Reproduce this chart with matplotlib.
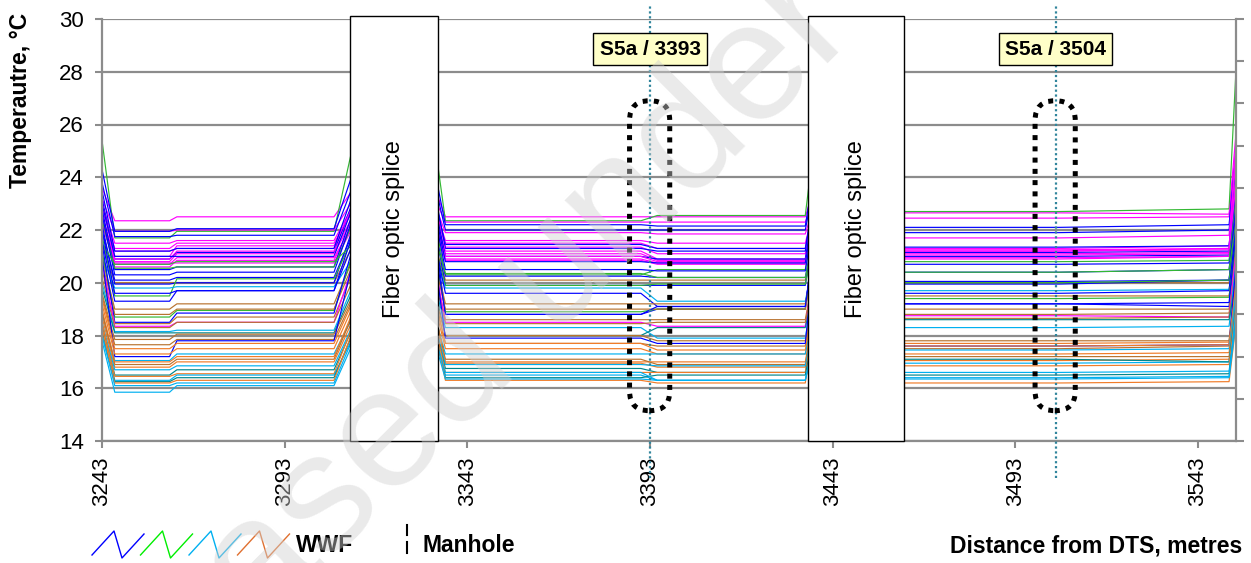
import matplotlib
matplotlib.use("Agg")
import matplotlib.pyplot as plt
from matplotlib.patches import Rectangle, FancyBboxPatch

plt.rcParams["font.family"] = ["Liberation Sans", "DejaVu Sans"]

# knot positions (m) for the three visible stretches of cable
x_first = [3243, 3246.5, 3261.5, 3263.5, 3306.5, 3312]
x_second = [3334, 3337, 3390.5, 3395, 3435.5, 3438]
x_third = [3462, 3505, 3551.5, 3553.3]

# one row per trace: colour, then
# [start spike, level A1, level A2, level B1, level B2, level C1, level C2, end spike]
traces = [
    ("M", [23.6, 22.35, 22.50, 22.50, 22.50, 22.65, 22.60, 25.5]),
    ("G", [25.4, 21.70, 21.95, 22.35, 22.55, 22.70, 22.80, 27.8]),
    ("M", [23.2, 21.95, 22.00, 22.30, 22.30, 22.45, 22.50, 25.0]),
    ("B", [24.3, 21.95, 22.05, 22.20, 22.15, 22.10, 22.20, 24.8]),
    ("B", [23.8, 21.75, 21.80, 22.00, 22.00, 21.90, 22.00, 24.5]),
    ("M", [23.0, 21.50, 21.60, 21.90, 21.85, 21.70, 21.80, 24.8]),
    ("M", [22.9, 21.20, 21.30, 21.60, 21.50, 21.25, 21.30, 24.4]),
    ("M", [22.8, 21.30, 21.50, 21.50, 21.30, 21.30, 21.40, 24.2]),
    ("B", [23.2, 20.90, 21.15, 21.45, 21.30, 21.35, 21.40, 24.0]),
    ("M", [23.0, 21.00, 21.40, 21.35, 21.10, 21.20, 21.30, 24.6]),
    ("B", [23.5, 21.20, 21.30, 21.30, 21.20, 21.15, 21.20, 24.0]),
    ("M", [22.6, 20.90, 21.20, 21.20, 20.90, 21.10, 21.15, 25.2]),
    ("M", [22.5, 20.80, 21.10, 21.10, 20.85, 21.20, 21.25, 23.8]),
    ("B", [23.0, 21.00, 21.00, 21.00, 20.90, 21.00, 21.05, 23.5]),
    ("M", [22.3, 20.70, 20.95, 21.00, 20.80, 21.05, 21.10, 24.0]),
    ("M", [22.4, 20.60, 20.85, 20.90, 20.75, 20.95, 21.00, 23.6]),
    ("M", [22.2, 20.75, 20.75, 20.85, 20.70, 20.90, 21.00, 23.4]),
    ("B", [22.8, 20.50, 20.60, 20.80, 20.75, 20.70, 20.75, 23.2]),
    ("G", [22.4, 20.55, 20.60, 20.30, 20.50, 20.80, 20.85, 23.0]),
    ("B", [22.6, 20.30, 20.40, 20.50, 20.45, 20.40, 20.50, 22.8]),
    ("B", [22.0, 20.10, 20.20, 20.25, 20.20, 20.05, 20.10, 22.6]),
    ("R", [21.5, 20.00, 20.00, 20.10, 20.10, 20.00, 20.00, 22.0]),
    ("B", [22.2, 19.95, 20.00, 19.90, 19.90, 19.95, 20.10, 22.4]),
    ("G", [21.8, 19.50, 20.15, 20.35, 20.20, 20.40, 20.50, 22.2]),
    ("G", [21.5, 20.70, 20.80, 19.90, 19.95, 20.00, 20.10, 22.0]),
    ("C", [21.0, 19.80, 19.85, 19.80, 19.30, 19.70, 19.75, 21.6]),
    ("B", [21.6, 19.30, 19.70, 19.60, 19.10, 19.60, 19.70, 22.0]),
    ("B", [22.0, 19.60, 19.70, 18.80, 19.00, 19.20, 19.10, 21.5]),
    ("R", [21.0, 19.00, 19.20, 19.20, 19.20, 19.50, 19.50, 21.2]),
    ("G", [21.2, 18.70, 18.95, 18.90, 19.00, 19.40, 19.45, 21.5]),
    ("R", [20.8, 18.80, 19.00, 19.00, 19.00, 19.00, 19.00, 21.0]),
    ("B", [21.5, 18.50, 18.85, 18.80, 19.10, 19.20, 19.25, 21.8]),
    ("R", [20.5, 18.45, 18.70, 18.60, 18.60, 18.80, 18.85, 20.8]),
    ("M", [20.8, 18.35, 18.50, 18.50, 18.35, 18.75, 18.70, 21.0]),
    ("R", [20.2, 18.30, 18.50, 18.45, 18.50, 18.65, 18.70, 20.5]),
    ("C", [20.0, 18.15, 18.20, 18.30, 17.90, 18.30, 18.35, 20.6]),
    ("T", [19.8, 18.10, 18.10, 18.00, 18.30, 18.60, 18.60, 20.0]),
    ("R", [19.6, 17.85, 18.05, 18.00, 17.80, 17.80, 17.80, 20.2]),
    ("R", [19.5, 17.65, 17.85, 17.70, 17.60, 17.50, 17.60, 20.0]),
    ("B", [21.0, 17.20, 17.80, 17.90, 17.70, 17.60, 17.65, 20.5]),
    ("O", [19.4, 17.50, 17.70, 17.70, 17.45, 17.70, 17.75, 19.8]),
    ("O", [19.2, 17.30, 17.50, 17.50, 17.30, 17.60, 17.65, 19.6]),
    ("C", [18.8, 17.05, 17.30, 17.30, 17.30, 17.45, 17.50, 19.5]),
    ("O", [19.0, 17.00, 17.20, 17.00, 17.00, 17.30, 17.35, 19.3]),
    ("R", [18.9, 16.90, 17.10, 17.10, 16.90, 17.20, 17.20, 19.2]),
    ("O", [18.7, 16.80, 17.00, 16.95, 16.80, 17.05, 17.10, 19.0]),
    ("C", [18.5, 16.70, 16.85, 16.90, 16.85, 16.95, 17.00, 19.4]),
    ("T", [18.4, 16.50, 16.70, 16.75, 16.60, 17.10, 17.00, 19.0]),
    ("O", [18.5, 16.45, 16.55, 16.60, 16.60, 16.85, 16.90, 18.9]),
    ("C", [18.0, 16.30, 16.50, 16.50, 16.30, 16.60, 16.65, 18.6]),
    ("T", [18.2, 16.25, 16.40, 16.40, 16.50, 16.50, 16.55, 18.5]),
    ("O", [18.3, 16.20, 16.30, 16.30, 16.20, 16.20, 16.25, 18.3]),
    ("C", [18.0, 16.10, 16.20, 16.60, 16.30, 16.35, 16.40, 18.4]),
    ("C", [17.8, 15.85, 16.10, 16.35, 16.30, 16.40, 16.45, 18.8]),
]

trace_colors = {"M": "#FF00FF", "B": "#0000FF", "G": "#33B833", "C": "#00B0F0",
                "O": "#F07C28", "R": "#B8732F", "T": "#00868B"}

splices = [(3310.9, 3335.0), (3436.3, 3462.5)]
markers = [3393, 3504]
marker_labels = ["S5a / 3393", "S5a / 3504"]
xticks = [3243, 3293, 3343, 3393, 3443, 3493, 3543]
yticks = [14, 16, 18, 20, 22, 24, 26, 28, 30]

legend_colors = ["#0000FF", "#00EE00", "#00B0F0", "#E07030"]

GREY = "#8C8C8C"


def main():
    fig = plt.figure(figsize=(12.51, 5.63), dpi=100)
    ax = fig.add_axes([102 / 1251, 1 - 441 / 563, 1134 / 1251, 422 / 563])

    for key, v in traces:
        s, a1, a2, b1, b2, c1, c2, e = v
        xs = x_first + x_second + x_third
        ys = [s, a1, a1, a2, a2, s, s, b1, b1, b2, b2, s, c1, c1, c2, e]
        ax.plot(xs, ys, color=trace_colors[key], lw=0.85, zorder=2)

    ax.set_xlim(3243, 3553.4)
    ax.set_ylim(14, 30)
    ax.set_yticks(yticks)
    ax.set_xticks(xticks)
    ax.set_xticklabels([str(t) for t in xticks], rotation=90)
    ax.tick_params(axis="both", labelsize=16, color=GREY, width=1.5, length=5)
    ax.tick_params(axis="y", pad=8)
    ax.tick_params(axis="x", pad=6)
    ax.yaxis.grid(True, color=GREY, lw=1.6, zorder=0)
    ax.set_axisbelow(True)
    for side in ["top", "right"]:
        ax.spines[side].set_visible(False)
    for side in ["left", "bottom"]:
        ax.spines[side].set_color(GREY)
        ax.spines[side].set_linewidth(1.6)

    # secondary axis on the right: ticks only
    ax2 = ax.twinx()
    ax2.set_ylim(0, 10)
    ax2.set_yticks(range(11))
    ax2.set_yticklabels([])
    ax2.tick_params(axis="y", color=GREY, width=1.5, length=6)
    for side in ["top", "left", "bottom"]:
        ax2.spines[side].set_visible(False)
    ax2.spines["right"].set_color(GREY)
    ax2.spines["right"].set_linewidth(1.6)

    # fibre optic splice boxes
    for x0, x1 in splices:
        ax.add_patch(Rectangle((x0, 14), x1 - x0, 16.1, facecolor="white",
                               edgecolor="black", lw=1.0, zorder=3, clip_on=False))
        ax.text((x0 + x1) / 2, 22.05, "Fiber optic splice", rotation=90,
                ha="center", va="center", fontsize=17, zorder=4)

    # manhole markers and labels
    for m, lab in zip(markers, marker_labels):
        ax.plot([m, m], [12.6, 30.55], color="#31859C", lw=1.6, ls=(0, (1, 1.2)),
                zorder=5, clip_on=False)
        ax.text(m, 28.86, lab, ha="center", va="center", fontsize=15,
                fontweight="bold", zorder=6,
                bbox=dict(boxstyle="square,pad=0.3", facecolor="#FFFFC8",
                          edgecolor="black", lw=1.0))
        ax.add_patch(FancyBboxPatch((m - 5.6, 15.15), 11.0, 11.75,
                                    boxstyle="round,pad=0,rounding_size=5.4",
                                    mutation_aspect=0.138, fill=False,
                                    edgecolor="black", lw=3.6, ls=(0, (1, 1.25)),
                                    zorder=6))

    # legend drawn in figure pixels
    lg = fig.add_axes([0, 0, 1, 1], facecolor="none")
    lg.set_xlim(0, 1251)
    lg.set_ylim(563, 0)
    lg.axis("off")
    for i, c in enumerate(legend_colors):
        x0 = 92 + i * 48.5
        lg.plot([x0, x0 + 22, x0 + 30, x0 + 52], [555, 531, 558, 534], color=c, lw=1.0)
    lg.plot([407, 407], [525, 535], color="black", lw=1.5)
    lg.plot([407, 407], [542, 553], color="black", lw=1.5)
    lg.text(296, 546, "WWF", fontsize=16.5, fontweight="bold", va="center")
    lg.text(423, 546, "Manhole", fontsize=16.5, fontweight="bold", va="center")
    lg.text(1242, 546, "Distance from DTS, metres", fontsize=16.5,
            fontweight="bold", va="center", ha="right")

    fig.text(21 / 1251, 1 - 100 / 563, "Temperautre, °C", rotation=90,
             fontsize=16.5, fontweight="bold", ha="center", va="center")

    # watermark
    fig.text(14 / 1251, -315 / 563, "Released under the Official Information Act",
             rotation=45, rotation_mode="anchor", ha="left", va="baseline",
             fontsize=122, color="#D0D0D0", alpha=0.45, zorder=20)

    fig.savefig("out.png", dpi=100)


if __name__ == "__main__":
    main()
